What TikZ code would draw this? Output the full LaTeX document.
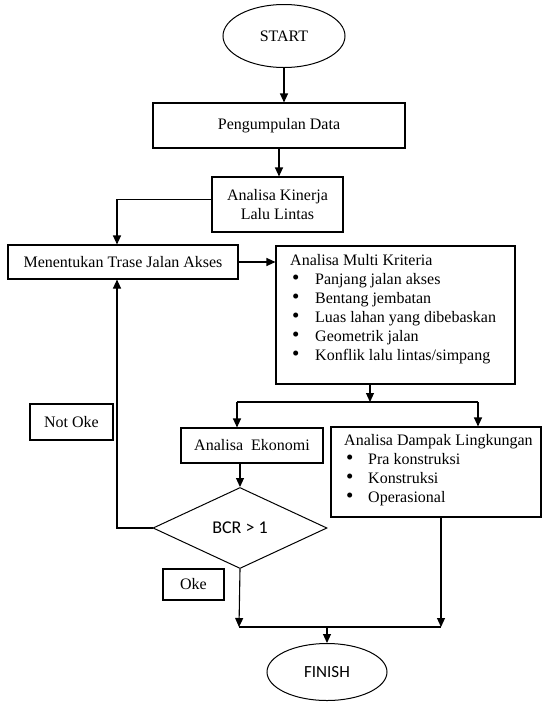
\documentclass[tikz,border=0pt]{standalone}
\usepackage{fontspec}
\setmainfont{Liberation Serif}
\newfontfamily\calfont{Carlito}
\usetikzlibrary{shapes.geometric}
\usetikzlibrary{arrows.meta}
\usetikzlibrary{positioning}

\newcommand{\itm}[2]{\hspace*{2pt}\makebox[#1][l]{\smash{\raisebox{-0.5pt}{\fontsize{21}{19}\selectfont\textbullet}}}#2}

\begin{document}
\begin{tikzpicture}[
  x=1pt, y=-1pt,
  every node/.style={font=\fontsize{16}{19}\selectfont},
  box/.style={rectangle,draw,line width=1.1pt,inner sep=0pt},
  term/.style={ellipse,draw,line width=1pt,inner sep=0pt},
  decision/.style={diamond,draw,line width=1pt,inner sep=0pt},
  arr/.style={line width=1.1pt,-{Triangle[width=8pt,length=9pt]}},
  line/.style={line width=1.1pt}
]
\useasboundingbox (0,0) rectangle (542,702);

\node (start) [term,minimum width=122,minimum height=63] at (284,36) {START};
\node (data) [box,minimum width=252,minimum height=45] at (279,125.5) {Pengumpulan Data};
\node (kinerja) [box,minimum width=131,minimum height=55,align=center] at (277.5,204.5) {Analisa Kinerja\\Lalu Lintas};
\node (trase) [box,minimum width=230,minimum height=34] at (123,262) {Menentukan Trase Jalan Akses};
\node (multi) [box,minimum width=239,minimum height=138] at (395.5,315) {};
\node (multitxt) [anchor=north west,inner sep=0pt,align=left] at (290,254)
  {Analisa Multi Kriteria\\
   \itm{23pt}{Panjang jalan akses}\\
   \itm{23pt}{Bentang jembatan}\\
   \itm{23pt}{Luas lahan yang dibebaskan}\\
   \itm{23pt}{Geometrik jalan}\\
   \itm{23pt}{Konflik lalu lintas/simpang}};
\node (notoke) [box,minimum width=83,minimum height=36] at (71.5,422) {Not Oke};
\node (eko) [box,minimum width=142,minimum height=35] at (252,445.5) {Analisa\ \ Ekonomi};
\node (dampak) [box,minimum width=210,minimum height=90] at (436,472) {};
\node (dampaktxt) [anchor=north west,inner sep=0pt,align=left] at (344,434)
  {Analisa Dampak Lingkungan\\
   \itm{22pt}{Pra konstruksi}\\
   \itm{22pt}{Konstruksi}\\
   \itm{22pt}{Operasional}};
\node (bcr) [decision,minimum width=174,minimum height=81,font=\calfont\fontsize{18}{20}\selectfont] at (240,528) {BCR > 1};
\node (oke) [box,minimum width=61,minimum height=31] at (193.5,584.5) {Oke};
\node (finish) [term,minimum width=120,minimum height=57,font=\calfont\fontsize{17}{20}\selectfont] at (327,672) {FINISH};

\coordinate (split) at (370,402);
\coordinate (sl) at (237,402);
\coordinate (sr) at (478,402);
\coordinate (jl) at (239,627);
\coordinate (jr) at (441,627);

\draw[arr] (start.south) -- (start.south |- data.north);
\draw[arr] (data.south) -- (data.south |- kinerja.north);
\draw[arr] ([yshift=5]kinerja.west) -| ([xshift=-6]trase.north);
\draw[arr] (trase.east) -- (trase.east -| multi.west);
\draw[arr] (multi.south -| split) -- (split);
\draw[line] (sl) -- (sr);
\draw[arr] (sl) -- (sl |- eko.north);
\draw[arr] (sr) -- (sr |- dampak.north);
\draw[arr] (eko.south -| bcr.north) -- (bcr.north);
\draw[arr] (bcr.west) -| ([xshift=-6]trase.south);
\draw[arr] (bcr.south) -- (jl);
\draw[arr] (dampak.south -| jr) -- (jr);
\draw[line] (jl) -- (jr);
\draw[arr] (finish.north |- jl) -- (finish.north);
\end{tikzpicture}
\end{document}
